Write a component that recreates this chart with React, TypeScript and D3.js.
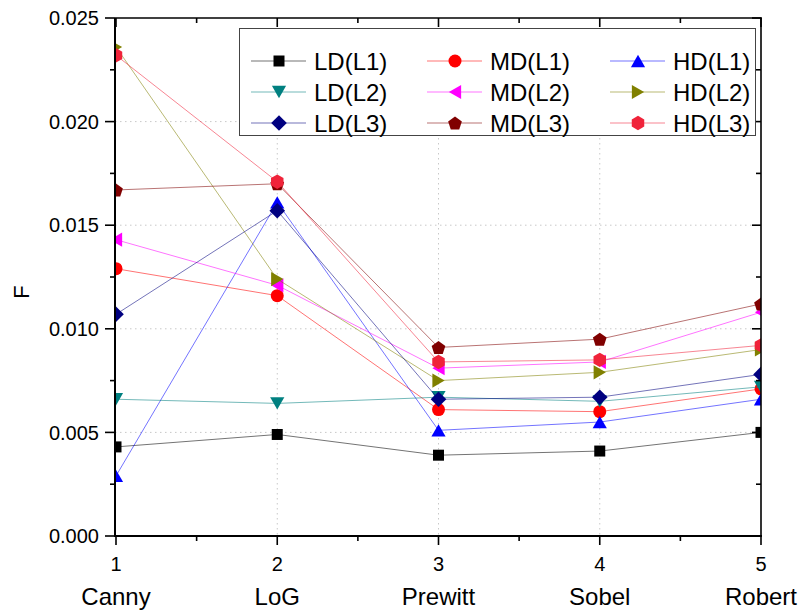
import React, { useEffect, useRef } from 'react';
import * as d3 from 'd3';

const categories = ['Canny', 'LoG', 'Prewitt', 'Sobel', 'Robert'];
const xValues = [1, 2, 3, 4, 5];
const yTicks = [0, 0.005, 0.01, 0.015, 0.02, 0.025];

const ldL1 = [0.0043, 0.0049, 0.0039, 0.0041, 0.005];
const ldL2 = [0.0066, 0.0064, 0.0067, 0.0065, 0.0072];
const ldL3 = [0.0107, 0.0157, 0.0066, 0.0067, 0.0078];
const mdL1 = [0.0129, 0.0116, 0.0061, 0.006, 0.0071];
const mdL2 = [0.0143, 0.0121, 0.0081, 0.0084, 0.0108];
const mdL3 = [0.0167, 0.017, 0.0091, 0.0095, 0.0112];
const hdL1 = [0.0029, 0.0161, 0.0051, 0.0055, 0.0066];
const hdL2 = [0.0236, 0.0124, 0.0075, 0.0079, 0.009];
const hdL3 = [0.0232, 0.0171, 0.0084, 0.0085, 0.0092];

// legend order (row by row)
const series = [
	{ name: 'LD(L1)', values: ldL1, color: '#000000', shape: 'square' },
	{ name: 'MD(L1)', values: mdL1, color: '#ff0000', shape: 'circle' },
	{ name: 'HD(L1)', values: hdL1, color: '#0000ff', shape: 'up' },
	{ name: 'LD(L2)', values: ldL2, color: '#008080', shape: 'down' },
	{ name: 'MD(L2)', values: mdL2, color: '#ff00ff', shape: 'left' },
	{ name: 'HD(L2)', values: hdL2, color: '#808000', shape: 'right' },
	{ name: 'LD(L3)', values: ldL3, color: '#000080', shape: 'diamond' },
	{ name: 'MD(L3)', values: mdL3, color: '#800000', shape: 'pentagon' },
	{ name: 'HD(L3)', values: hdL3, color: '#f0233a', shape: 'hexagon' },
];

const polygon = (n: number, r: number, rot: number) => {
	const pts: [number, number][] = [];
	for (let i = 0; i < n; i++) {
		const a = rot + (i * 2 * Math.PI) / n;
		pts.push([r * Math.cos(a), r * Math.sin(a)]);
	}
	// center bounding box
	const xs = pts.map(p => p[0]);
	const ys = pts.map(p => p[1]);
	const cx = (Math.min(...xs) + Math.max(...xs)) / 2;
	const cy = (Math.min(...ys) + Math.max(...ys)) / 2;
	return 'M' + pts.map(p => `${(p[0] - cx).toFixed(2)},${(p[1] - cy).toFixed(2)}`).join('L') + 'Z';
};

const markerPath = (shape: string) => {
	switch (shape) {
		case 'square':
			return 'M-5.5,-5.5L5.5,-5.5L5.5,5.5L-5.5,5.5Z';
		case 'circle':
			return 'M-6.5,0A6.5,6.5 0 1,0 6.5,0A6.5,6.5 0 1,0 -6.5,0Z';
		case 'up':
			return polygon(3, 8.2, -Math.PI / 2);
		case 'down':
			return polygon(3, 8.2, Math.PI / 2);
		case 'left':
			return polygon(3, 8.2, Math.PI);
		case 'right':
			return polygon(3, 8.2, 0);
		case 'diamond':
			return polygon(4, 7.8, -Math.PI / 2);
		case 'pentagon':
			return polygon(5, 7.2, -Math.PI / 2);
		case 'hexagon':
			return polygon(6, 7.2, -Math.PI / 2);
	}
	return '';
};

const App = () => {
	const container = useRef<SVGSVGElement>(null);

	useEffect(() => {
		const svg = d3.select(container.current);
		svg.selectAll('*').remove();

		const plot = { l: 115, r: 761, t: 18, b: 536 };
		const font = '"Liberation Sans", Arial, sans-serif';

		const xScale = d3.scaleLinear().domain([1, 5]).range([plot.l + 1, plot.r]);
		const yScale = d3.scaleLinear().domain([0, 0.025]).range([plot.b, plot.t]);

		svg.append('rect').attr('width', 799).attr('height', 613).attr('fill', '#fff');

		// dotted grid
		const grid = svg.append('g');
		grid.selectAll('.gx')
			.data(xValues.slice(1, -1))
			.join('line')
			.attr('x1', d => xScale(d))
			.attr('x2', d => xScale(d))
			.attr('y1', plot.t)
			.attr('y2', plot.b)
			.attr('stroke', '#c8c8c8')
			.attr('stroke-dasharray', '1.5,3.5');
		grid.selectAll('.gy')
			.data(yTicks.slice(1, -1))
			.join('line')
			.attr('x1', plot.l)
			.attr('x2', plot.r)
			.attr('y1', d => yScale(d))
			.attr('y2', d => yScale(d))
			.attr('stroke', '#c8c8c8')
			.attr('stroke-dasharray', '1.5,3.5');

		// series
		svg.append('clipPath')
			.attr('id', 'plotclip')
			.append('rect')
			.attr('x', plot.l)
			.attr('y', plot.t - 20)
			.attr('width', plot.r - plot.l)
			.attr('height', plot.b - plot.t + 40);

		const lineGen = d3
			.line<number>()
			.x((d, i) => xScale(xValues[i]))
			.y(d => yScale(d));

		const seriesG = svg.append('g').attr('clip-path', 'url(#plotclip)');
		series.forEach(s => {
			const g = seriesG.append('g');
			g.append('path')
				.attr('d', lineGen(s.values))
				.attr('fill', 'none')
				.attr('stroke', s.color)
				.attr('stroke-opacity', 0.55)
				.attr('stroke-width', 1);
			g.selectAll('path.marker')
				.data(s.values)
				.join('path')
				.attr('class', 'marker')
				.attr('d', markerPath(s.shape))
				.attr('transform', (d, i) => `translate(${xScale(xValues[i])},${yScale(d)})`)
				.attr('fill', s.color);
		});

		// axes frame
		const axisColor = '#000';
		svg.append('line').attr('x1', plot.l).attr('x2', plot.l).attr('y1', plot.t).attr('y2', plot.b + 1)
			.attr('stroke', axisColor).attr('stroke-width', 2);
		svg.append('line').attr('x1', plot.l).attr('x2', plot.r + 1).attr('y1', plot.b).attr('y2', plot.b)
			.attr('stroke', axisColor).attr('stroke-width', 2);
		svg.append('line').attr('x1', plot.l).attr('x2', plot.r + 1).attr('y1', plot.t).attr('y2', plot.t)
			.attr('stroke', axisColor).attr('stroke-width', 1.6);
		svg.append('line').attr('x1', plot.r).attr('x2', plot.r).attr('y1', plot.t).attr('y2', plot.b)
			.attr('stroke', axisColor).attr('stroke-width', 1.6);

		const yMinor = d3.range(0.0025, 0.025, 0.005);
		const xMinor = [1.5, 2.5, 3.5, 4.5];

		const ticks = svg.append('g').attr('stroke', axisColor).attr('stroke-width', 1.6);
		// left (outward) and right (inward)
		yTicks.forEach(v => {
			const y = yScale(v);
			ticks.append('line').attr('x1', plot.l - 10).attr('x2', plot.l).attr('y1', y).attr('y2', y);
			ticks.append('line').attr('x1', plot.r - 9).attr('x2', plot.r).attr('y1', y).attr('y2', y);
		});
		yMinor.forEach(v => {
			const y = yScale(v);
			ticks.append('line').attr('x1', plot.l - 5).attr('x2', plot.l).attr('y1', y).attr('y2', y);
			ticks.append('line').attr('x1', plot.r - 5).attr('x2', plot.r).attr('y1', y).attr('y2', y);
		});
		// bottom (outward) and top (inward)
		xValues.forEach(v => {
			const x = xScale(v);
			ticks.append('line').attr('x1', x).attr('x2', x).attr('y1', plot.b).attr('y2', plot.b + 9);
			ticks.append('line').attr('x1', x).attr('x2', x).attr('y1', plot.t).attr('y2', plot.t + 9);
		});
		xMinor.forEach(v => {
			const x = xScale(v);
			ticks.append('line').attr('x1', x).attr('x2', x).attr('y1', plot.b).attr('y2', plot.b + 5);
			ticks.append('line').attr('x1', x).attr('x2', x).attr('y1', plot.t).attr('y2', plot.t + 5);
		});

		// tick labels
		svg.append('g')
			.selectAll('text')
			.data(yTicks)
			.join('text')
			.attr('x', plot.l - 16)
			.attr('y', d => yScale(d))
			.attr('dy', '0.36em')
			.attr('text-anchor', 'end')
			.attr('font-family', font)
			.attr('font-size', 20)
			.text(d => d3.format('.3f')(d));

		svg.append('g')
			.selectAll('text')
			.data(xValues)
			.join('text')
			.attr('x', d => xScale(d))
			.attr('y', 571)
			.attr('text-anchor', 'middle')
			.attr('font-family', font)
			.attr('font-size', 20)
			.text(d => d);

		svg.append('g')
			.selectAll('text')
			.data(categories)
			.join('text')
			.attr('x', (d, i) => xScale(xValues[i]))
			.attr('y', 605)
			.attr('text-anchor', 'middle')
			.attr('font-family', font)
			.attr('font-size', 24)
			.text(d => d);

		svg.append('text')
			.attr('transform', 'translate(29,292) rotate(-90)')
			.attr('text-anchor', 'middle')
			.attr('font-family', font)
			.attr('font-size', 22)
			.text('F');

		// legend
		const legend = svg.append('g');
		legend.append('rect')
			.attr('x', 239.5)
			.attr('y', 28.5)
			.attr('width', 516)
			.attr('height', 107)
			.attr('fill', '#fff')
			.attr('stroke', '#444')
			.attr('stroke-width', 1);

		const colX = [251, 427, 610];
		const rowY = [61, 92, 123];
		series.forEach((s, i) => {
			const x0 = colX[i % 3];
			const y0 = rowY[Math.floor(i / 3)];
			legend.append('line')
				.attr('x1', x0)
				.attr('x2', x0 + 55)
				.attr('y1', y0)
				.attr('y2', y0)
				.attr('stroke', s.color)
				.attr('stroke-opacity', 0.55)
				.attr('stroke-width', 1);
			legend.append('path')
				.attr('d', markerPath(s.shape))
				.attr('transform', `translate(${x0 + 28},${y0})`)
				.attr('fill', s.color);
			legend.append('text')
				.attr('x', x0 + 63)
				.attr('y', y0)
				.attr('dy', '0.36em')
				.attr('font-family', font)
				.attr('font-size', 24)
				.text(s.name);
		});
	}, []);

	return (
		<svg
			ref={container}
			width={799}
			height={613}
			style={{ position: 'absolute', left: 0, top: 0 }}
		></svg>
	);
};

export default App;
